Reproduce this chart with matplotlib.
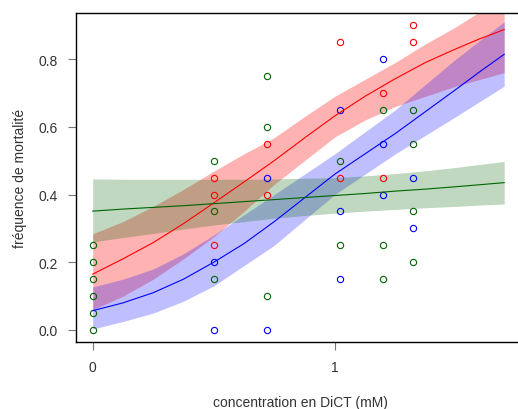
import matplotlib.pyplot as plt
import numpy as np

plt.rcParams['font.family'] = ['Liberation Sans', 'DejaVu Sans']

# observed mortality frequencies (x = concentration, y = frequency)
red_x = [0.5, 0.5, 0.5, 0.72, 0.72, 1.02, 1.02, 1.2, 1.2, 1.325, 1.325]
red_y = [0.45, 0.40, 0.25, 0.55, 0.40, 0.85, 0.45, 0.70, 0.45, 0.90, 0.85]
blue_x = [0.5, 0.5, 0.72, 0.72, 1.02, 1.02, 1.02, 1.2, 1.2, 1.2, 1.325, 1.325]
blue_y = [0.20, 0.0, 0.45, 0.0, 0.65, 0.35, 0.15, 0.80, 0.55, 0.40, 0.45, 0.30]
green_x = [0, 0, 0, 0, 0, 0, 0.5, 0.5, 0.5, 0.72, 0.72, 0.72, 1.02, 1.02,
           1.2, 1.2, 1.2, 1.325, 1.325, 1.325, 1.325]
green_y = [0.25, 0.20, 0.15, 0.10, 0.05, 0.0, 0.50, 0.35, 0.15, 0.75, 0.60, 0.10,
           0.50, 0.25, 0.65, 0.25, 0.15, 0.65, 0.55, 0.35, 0.20]

# fitted curves and confidence bands, read at these concentrations
fit_x = [0, 0.125, 0.25, 0.375, 0.5, 0.625, 0.75, 0.875, 1.0, 1.125, 1.25, 1.375, 1.5, 1.6, 1.7]
red_fit = [0.165, 0.21, 0.258, 0.314, 0.375, 0.437, 0.50, 0.567, 0.632, 0.69, 0.742, 0.79, 0.83, 0.86, 0.887]
red_hi = [0.284, 0.32, 0.365, 0.415, 0.469, 0.52, 0.568, 0.63, 0.69, 0.74, 0.79, 0.845, 0.895, 0.94, 0.99]
red_lo = [0.06, 0.10, 0.15, 0.21, 0.275, 0.35, 0.43, 0.50, 0.57, 0.62, 0.66, 0.69, 0.72, 0.74, 0.76]
blue_fit = [0.057, 0.08, 0.11, 0.15, 0.20, 0.255, 0.32, 0.39, 0.46, 0.52, 0.58, 0.645, 0.71, 0.763, 0.814]
blue_hi = [0.127, 0.15, 0.18, 0.225, 0.28, 0.34, 0.40, 0.46, 0.52, 0.585, 0.65, 0.725, 0.80, 0.855, 0.91]
blue_lo = [0.003, 0.025, 0.05, 0.085, 0.13, 0.19, 0.25, 0.325, 0.40, 0.46, 0.52, 0.575, 0.63, 0.675, 0.72]
green_fit = [0.351, 0.357, 0.362, 0.367, 0.373, 0.379, 0.385, 0.391, 0.397, 0.403, 0.41, 0.416, 0.423, 0.429, 0.435]
green_hi = [0.446, 0.445, 0.445, 0.445, 0.445, 0.445, 0.446, 0.448, 0.45, 0.455, 0.462, 0.47, 0.48, 0.489, 0.4975]
green_lo = [0.26, 0.273, 0.285, 0.298, 0.31, 0.32, 0.33, 0.338, 0.345, 0.351, 0.356, 0.361, 0.365, 0.369, 0.372]

fig = plt.figure(figsize=(5.18, 4.10), dpi=100)
ax = fig.add_axes([76 / 518, 67 / 410, 449 / 518, 329 / 410])

# points first, bands drawn over them
ax.plot(red_x, red_y, 'o', mfc='none', mec='red', ms=4.5, mew=0.8)
ax.plot(blue_x, blue_y, 'o', mfc='none', mec='blue', ms=4.5, mew=0.8)
ax.plot(green_x, green_y, 'o', mfc='none', mec='darkgreen', ms=4.5, mew=0.8)

ax.fill_between(fit_x, red_lo, red_hi, color='red', alpha=0.3, lw=0)
ax.plot(fit_x, red_fit, color='red', lw=0.8)
ax.fill_between(fit_x, blue_lo, blue_hi, color='blue', alpha=0.25, lw=0)
ax.plot(fit_x, blue_fit, color='blue', lw=0.8)
ax.fill_between(fit_x, green_lo, green_hi, color='darkgreen', alpha=0.25, lw=0)
ax.plot(fit_x, green_fit, color='darkgreen', lw=0.8)

ax.set_xlim(-0.069, 1.786)
ax.set_ylim(-0.0355, 0.936)
ax.set_xticks([0, 1])
ax.set_xticklabels(['0', '1'])
ax.set_yticks([0.0, 0.2, 0.4, 0.6, 0.8])
ax.set_yticklabels(['0.0', '0.2', '0.4', '0.6', '0.8'])
ax.tick_params(length=6, width=0.8, color='#777777', labelcolor='#333333',
               labelsize=10, pad=7)
ax.spines['right'].set_visible(False)
for s in ['left', 'bottom', 'top']:
    ax.spines[s].set_linewidth(1)

ax.set_xlabel('concentration en DiCT (mM)', fontsize=10, color='#333333', labelpad=15)
ax.set_ylabel('fréquence de mortalité', fontsize=10, color='#333333', labelpad=8)

fig.savefig('out.png', dpi=100)
